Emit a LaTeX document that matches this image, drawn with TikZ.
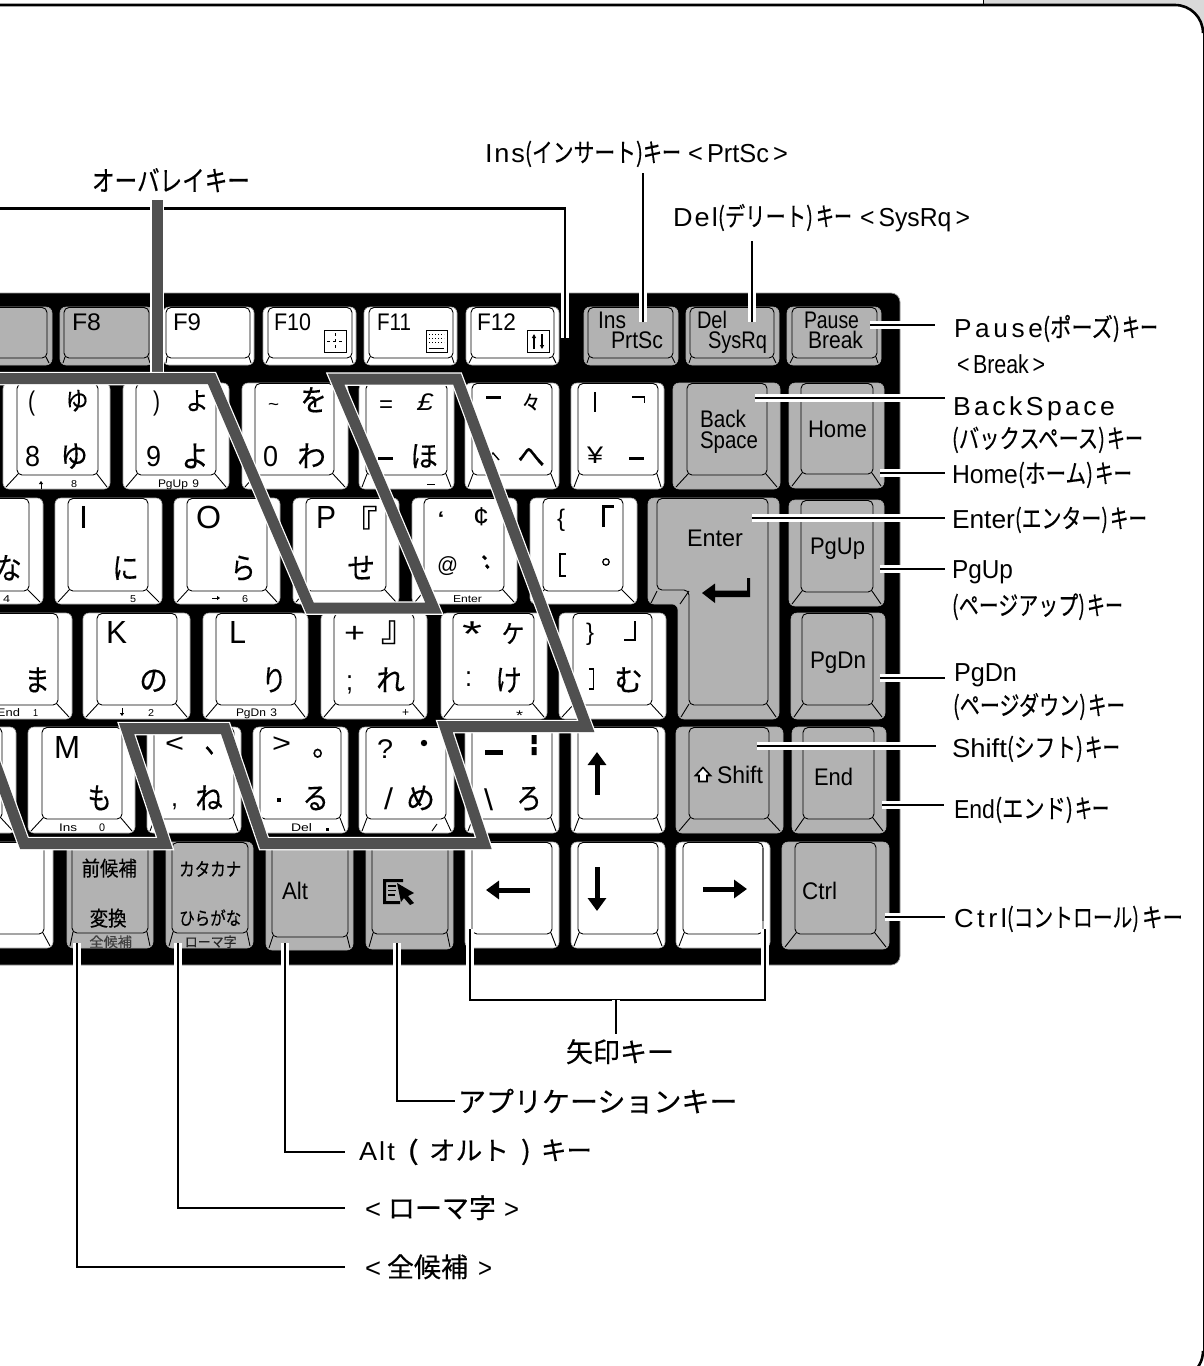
\documentclass[tikz,border=0pt]{standalone}
\usepackage{graphicx}
\usepackage{fontspec}
\setmainfont{Liberation Sans}
\newfontfamily\jp[FakeBold=0.35]{Noto Sans CJK JP}
\usetikzlibrary{arrows.meta}

\definecolor{keygray}{HTML}{B2B2B2}
\definecolor{overlaygray}{HTML}{505050}
\definecolor{tabgray}{HTML}{D9D9D9}

\tikzset{
  keyline/.style={black,line width=0.9pt},
  keytext/.style={anchor=base west,inner sep=0pt,outer sep=0pt},
  leader/.style={black,line width=2.3pt,line join=miter,preaction={draw=white,line width=7.5pt}},
  overlaybar/.style={overlaygray,line width=11pt,line join=miter,miter limit=12,preaction={draw=white,line width=13.5pt}},
  arrowkey/.style={black,line width=5pt,-{Triangle[length=13pt,width=18pt]}}
}

% x0 y0 x1 y1, then face left, face right, face bottom, colour
\newcommand\KeyCap[8]{
  \path[fill=#8,draw=black!35,line width=0.6pt,rounded corners=6pt] (#1,#2) rectangle (#3,#4);
  \draw[keyline,rounded corners=5pt] (#5,#2+0.5) rectangle (#6,#7);
  \draw[keyline] (#5+1,#7-1) -- (#1+3,#4-2) (#6-1,#7-1) -- (#3-3,#4-2);
}
% name, x, baseline, size, width, text
\newcommand\KeyText[6]{\node[keytext] (#1) at (#2,#3) {\resizebox{#5pt}{\height}{\fontsize{#4}{#4}\selectfont #6}};}
% kana fill less of their box than the width asked, so they get a bigger box
\newcommand\KeyJp[6]{
  \pgfmathsetmacro\jpsize{#4*1.15}
  \pgfmathsetmacro\jpwidth{#5*1.15}
  \node[keytext] (#1) at (#2-0.07*#5,#3+1) {\resizebox{\jpwidth pt}{\height}{\fontsize{\jpsize}{\jpsize}\selectfont\jp #6}};
}
% one piece of a callout, as wide as asked
\newcommand\fit[2]{\resizebox{#1pt}{\height}{#2}}
\newcommand\spc[2]{{\addfontfeature{LetterSpace=#1}#2}}

\begin{document}
\begin{tikzpicture}[x=1pt,y=-1pt]
  \useasboundingbox (0,0) rectangle (1204,1366);
  \clip (0,0) rectangle (1204,1366);

  % page frame
  \fill[tabgray] (983,0) rectangle (1204,34);
  \draw[black,line width=0.8pt] (983,0) -- (983,5);
  \path[fill=white] (-5,5) -- (1175,5) arc (-90:0:28) -- (1203,1351) arc (0:60:28) -- (-5,1370) -- cycle;
  \draw[black,line width=2.6pt] (-5,5) -- (1175,5) arc (-90:0:28);
  \draw[black,line width=1pt] (1203,33) -- (1203,1351);
  \draw[black,line width=2.6pt] (1203,1351) arc (0:60:28);

  % keyboard body
  \path[fill=black,draw=black!40,line width=0.7pt,rounded corners=9pt] (-20,293) rectangle (900,965);

  % function row
  \KeyCap{-40}{307}{52}{365}{-30}{47}{358}{keygray}
  \KeyCap{60}{307}{153}{365}{64}{149}{358}{keygray}
  \KeyCap{163}{307}{254}{365}{166}{250}{358}{white}
  \KeyCap{263}{307}{356}{365}{268}{352}{358}{white}
  \KeyCap{364}{307}{457}{365}{369}{453}{358}{white}
  \KeyCap{466}{307}{559}{365}{471}{554}{358}{white}
  \KeyCap{584}{307}{678}{365}{588}{673}{358}{keygray}
  \KeyCap{686}{307}{779}{365}{690}{774}{358}{keygray}
  \KeyCap{787}{307}{881}{365}{792}{877}{358}{keygray}

  % number row
  \KeyCap{-100}{383}{-8}{489}{-80}{-16}{475}{white}
  \KeyCap{3}{383}{110}{489}{17}{98}{475}{white}
  \KeyCap{123}{383}{229}{489}{136}{216}{475}{white}
  \KeyCap{242}{383}{348}{489}{255}{334}{475}{white}
  \KeyCap{359}{383}{454}{489}{366}{447}{475}{white}
  \KeyCap{465}{383}{559}{489}{472}{552}{475}{white}
  \KeyCap{571}{383}{664}{489}{578}{658}{475}{white}
  \KeyCap{673}{383}{780}{489}{687}{767}{475}{keygray}
  \KeyCap{789}{383}{884}{488}{801}{873}{474}{keygray}

  % upper letter row
  \KeyCap{-64}{498}{43}{604}{-51}{29}{591}{white}
  \KeyCap{55}{498}{162}{604}{68}{148}{591}{white}
  \KeyCap{174}{498}{280}{604}{187}{267}{591}{white}
  \KeyCap{293}{498}{399}{604}{306}{386}{591}{white}
  \KeyCap{412}{498}{517}{604}{424}{504}{591}{white}
  \KeyCap{530}{498}{637}{604}{543}{623}{591}{white}
  \KeyCap{789}{500}{884}{606}{801}{873}{592}{keygray}

  % enter key
  \path[fill=keygray,draw=black!35,line width=0.6pt,rounded corners=6pt] (648,498) -- (779,498) -- (779,719) -- (678,719) -- (678,604) -- (648,604) -- cycle;
  \draw[keyline,rounded corners=5pt] (657,498.5) -- (768,498.5) -- (768,705) -- (689,705) -- (689,590) -- (657,590) -- cycle;
  \draw[keyline] (657,591) -- (651,603) (689,591) -- (680,604) (689,704) -- (681,717) (767,704) -- (776,717);

  % middle letter row
  \KeyCap{-35}{613}{72}{719}{-22}{58}{705}{white}
  \KeyCap{83}{613}{190}{719}{97}{177}{705}{white}
  \KeyCap{203}{613}{308}{719}{216}{296}{705}{white}
  \KeyCap{321}{613}{427}{719}{334}{414}{705}{white}
  \KeyCap{441}{613}{547}{719}{453}{534}{705}{white}
  \KeyCap{559}{613}{666}{719}{573}{652}{705}{white}
  \KeyCap{791}{613}{885}{719}{802}{873}{705}{keygray}

  % lower letter row
  \KeyCap{-90}{727}{16}{833}{-78}{2}{819}{white}
  \KeyCap{28}{727}{135}{833}{42}{122}{819}{white}
  \KeyCap{147}{727}{241}{833}{154}{234}{819}{white}
  \KeyCap{253}{727}{348}{833}{260}{341}{819}{white}
  \KeyCap{359}{727}{454}{833}{366}{446}{819}{white}
  \KeyCap{465}{727}{559}{833}{472}{552}{819}{white}
  \KeyCap{571}{727}{665}{833}{578}{658}{819}{white}
  \KeyCap{676}{727}{783}{833}{689}{769}{819}{keygray}
  \KeyCap{792}{727}{886}{833}{803}{874}{819}{keygray}

  % bottom row
  \KeyCap{-60}{842}{53}{948}{-50}{44}{934}{white}
  \KeyCap{67}{842}{153}{948}{72}{148}{933}{keygray}
  \KeyCap{166}{842}{253}{948}{172}{248}{933}{keygray}
  \KeyCap{266}{842}{353}{950}{272}{348}{937}{keygray}
  \KeyCap{366}{842}{453}{949}{372}{448}{934}{keygray}
  \KeyCap{465}{842}{559}{948}{472}{552}{934}{white}
  \KeyCap{571}{842}{665}{948}{578}{658}{934}{white}
  \KeyCap{676}{842}{770}{948}{683}{763}{934}{white}
  \KeyCap{782}{842}{889}{949}{795}{876}{934}{keygray}

  % function keys, text
  \KeyText{kFeight}{72}{330}{24}{29}{F8}
  \KeyText{kFnine}{173}{330}{24}{28}{F9}
  \KeyText{kFten}{274}{330}{24}{37}{F10}
  \KeyText{kFeleven}{377}{330}{24}{34}{F11}
  \KeyText{kFtwelve}{477}{330}{24}{39}{F12}
  \draw[black,line width=0.8pt,fill=white] (324,330) rectangle (346,352);
  \draw[black,line width=0.6pt,dashed] (335,333) -- (335,349) (327,341) -- (343,341);
  \draw[black,line width=0.8pt,fill=white] (426,330) rectangle (447,352);
  \draw[black,line width=1pt,dotted] (429,334) -- (444,334) (429,338) -- (444,338) (429,342) -- (444,342);
  \draw[black,line width=0.8pt] (429,348) -- (444,348);
  \draw[black,line width=0.8pt,fill=white] (527,330) rectangle (549,352);
  \draw[black,line width=1.2pt,-{Triangle[length=4pt,width=4pt]}] (534,349) -- (534,334);
  \draw[black,line width=1.2pt,-{Triangle[length=4pt,width=4pt]}] (542,334) -- (542,349);
  \KeyText{kIns}{598}{328}{24}{28}{Ins}
  \KeyText{kPrt}{611}{348}{24}{52}{PrtSc}
  \KeyText{kDel}{697}{328}{24}{30}{Del}
  \KeyText{kSys}{708}{348}{24}{59}{SysRq}
  \KeyText{kPau}{804}{328}{24}{55}{Pause}
  \KeyText{kBre}{808}{348}{24}{55}{Break}

  % number row, text
  \KeyText{kParL}{28}{410}{27}{7}{(}
  \KeyJp{kYuU}{67}{409}{22}{20}{ゆ}
  \KeyText{kEight}{25}{466}{29}{15}{8}
  \KeyJp{kYuL}{62}{466}{26}{24}{ゆ}
  \KeyText{kParR}{153}{410}{27}{7}{)}
  \KeyJp{kYoU}{187}{409}{22}{20}{よ}
  \KeyText{kNine}{146}{466}{29}{15}{9}
  \KeyJp{kYoL}{183}{466}{26}{24}{よ}
  \KeyText{kTil}{268}{410}{18}{11}{\textasciitilde}
  \KeyJp{kWoU}{302}{410}{26}{23}{を}
  \KeyText{kZero}{263}{466}{29}{15}{0}
  \KeyJp{kWa}{299}{466}{26}{25}{わ}
  \KeyText{kEq}{379}{412}{24}{14}{=}
  \KeyText{kPou}{417}{410}{24}{16}{\itshape £}
  \KeyJp{kHo}{412}{466}{26}{24}{ほ}
  \fill[black] (378,456.5) rectangle (393,459.5);
  \fill[black] (486,395.5) rectangle (501,398.5);
  \KeyJp{kNoma}{523}{409}{18}{16}{々}
  \KeyJp{kHe}{519}{466}{26}{24}{へ}
  \draw[black,line width=1.4pt] (487,460) -- (493,453) -- (499,460);
  \draw[black,line width=1.6pt] (595,392) -- (595,412);
  \draw[black,line width=1.6pt] (632,397) -- (644.5,397) -- (644.5,403);
  \KeyText{kYen}{587}{463}{24}{16}{¥}
  \fill[black] (629,456.5) rectangle (644,459.5);
  \draw[black,line width=1pt,-{Triangle[length=3pt,width=4pt]}] (41,489) -- (41,481);
  \KeyText{kSmEight}{71}{487}{10}{6}{8}
  \KeyText{kPgNine}{158}{487}{11}{41}{PgUp\hspace{4pt}9}
  \fill[black] (427,483.5) rectangle (435,485);
  \KeyText{kBack}{700}{427}{24}{46}{Back}
  \KeyText{kSpace}{700}{448}{24}{58}{Space}
  \KeyText{kHome}{808}{437}{24}{59}{Home}

  % upper letters, text
  \KeyJp{kNa}{-3}{578}{26}{23}{な}
  \KeyText{kFour}{3}{602}{10}{7}{4}
  \KeyText{kI}{79}{528}{32}{9}{I}
  \KeyJp{kNi}{114}{578}{26}{23}{に}
  \KeyText{kFive}{130}{602}{10}{6}{5}
  \KeyText{kO}{196}{528}{32}{25}{O}
  \KeyJp{kRa}{232}{578}{26}{22}{ら}
  \draw[black,line width=1pt,-{Triangle[length=3pt,width=4pt]}] (212,598) -- (220,598);
  \KeyText{kSix}{242}{602}{10}{6}{6}
  \KeyText{kP}{316}{528}{32}{20}{P}
  \KeyJp{kHookL}{344}{535}{31}{31}{『}
  \KeyJp{kSe}{349}{578}{26}{24}{せ}
  \KeyText{kBq}{437}{528}{24}{8}{`}
  \KeyText{kCt}{473}{525}{26}{16}{¢}
  \KeyText{kAt}{437}{572}{22}{21}{@}
  \fill[black] (484,555) -- (487,558) -- (485,560) -- (482,557) -- cycle (487,564) -- (489.5,567) -- (487.5,569) -- (485,566) -- cycle;
  \KeyText{kEnterSm}{453}{602}{10}{29}{Enter}
  \KeyText{kLb}{557}{526}{24}{8}{\{}
  \draw[black,line width=2.6pt] (603.5,527) -- (603.5,506.5) -- (614,506.5);
  \draw[black,line width=1.4pt] (566,554) -- (560,554) -- (560,576) -- (566,576);
  \draw[black,line width=1.3pt] (606,562) circle (3.2);
  \KeyText{kEnter}{687}{546}{24}{56}{Enter}
  \KeyText{kPgUp}{810}{554}{24}{55}{PgUp}
  \fill[black] (702,593) -- (715,583.5) -- (715,590.5) -- (747,590.5) -- (747,578) -- (750,578) -- (750,597) -- (715,597) -- (715,603) -- cycle;

  % middle letters, text
  \KeyJp{kMa}{26}{690}{26}{22}{ま}
  \KeyText{kEnd}{-3}{716}{11}{23}{End}
  \KeyText{kOne}{33}{716}{10}{5}{1}
  \KeyText{kK}{106}{643}{32}{21}{K}
  \KeyJp{kNo}{141}{690}{26}{25}{の}
  \draw[black,line width=1pt,-{Triangle[length=3pt,width=4pt]}] (122,708) -- (122,716);
  \KeyText{kTwo}{148}{716}{10}{6}{2}
  \KeyText{kL}{229}{643}{32}{17}{L}
  \KeyJp{kRi}{263}{690}{26}{22}{り}
  \KeyText{kPgThree}{236}{716}{11}{41}{PgDn\hspace{4pt}3}
  \KeyText{kPlus}{344}{642}{28}{21}{+}
  \KeyJp{kHookR}{383}{640}{31}{31}{』}
  \KeyText{kSemi}{346}{690}{28}{7}{;}
  \KeyJp{kRe}{378}{690}{26}{25}{れ}
  \KeyText{kPlusSm}{402}{716}{12}{7}{+}
  \KeyText{kAst}{462}{646}{36}{20}{*}
  \KeyJp{kKe}{503}{642}{22}{20}{ケ}
  \KeyText{kColon}{465}{686}{28}{7}{:}
  \KeyJp{kKeh}{497}{690}{26}{23}{け}
  \KeyText{kAstSm}{516}{720}{14}{7}{*}
  \KeyText{kRb}{586}{640}{24}{8}{\}}
  \draw[black,line width=2.6pt] (635,621) -- (635,640) -- (624,640);
  \draw[black,line width=1.4pt] (589,669) -- (593.5,669) -- (593.5,689) -- (589,689);
  \KeyJp{kMu}{616}{690}{26}{25}{む}
  \KeyText{kPgDn}{810}{668}{24}{56}{PgDn}

  % lower letters, text
  \KeyText{kM}{54}{758}{32}{26}{M}
  \KeyJp{kMo}{89}{808}{26}{21}{も}
  \KeyText{kInsSm}{59}{831}{11}{18}{Ins}
  \KeyText{kZeroSm}{99}{831}{11}{6}{0}
  \KeyText{kLt}{165}{752}{27}{19}{<}
  \KeyJp{kTen}{206}{752}{26}{22}{、}
  \KeyText{kComma}{171}{806}{26}{7}{,}
  \KeyJp{kNe}{197}{808}{26}{24}{ね}
  \KeyText{kGt}{272}{752}{27}{19}{>}
  \KeyJp{kMaru}{314}{755}{26}{24}{。}
  \fill[black] (277,798) rectangle (281,802);
  \KeyJp{kRu}{304}{808}{26}{23}{る}
  \KeyText{kDelSm}{291}{831}{11}{21}{Del}
  \fill[black] (326,827.5) rectangle (329,830.5);
  \KeyText{kQu}{377}{758}{27}{16}{?}
  \fill[black] (424,743) circle (3.2);
  \KeyText{kSlash}{384}{809}{30}{9}{/}
  \KeyJp{kMe}{408}{808}{26}{25}{め}
  \draw[black,line width=0.9pt] (432,831) -- (437,824);
  \fill[black] (485,749.5) rectangle (503,755);
  \fill[black] (531.5,735) rectangle (536.5,744) (531.5,747) rectangle (536.5,755);
  \KeyText{kBs}{484}{810}{30}{9}{\textbackslash}
  \KeyJp{kRo}{518}{808}{26}{22}{ろ}
  \draw[arrowkey] (597,795) -- (597,752);
  \KeyText{kShift}{717}{783}{24}{46}{Shift}
  \draw[black,line width=1.6pt,fill=white] (703,767.5) -- (710.5,775.5) -- (707,775.5) -- (707,781.5) -- (699,781.5) -- (699,775.5) -- (695.5,775.5) -- cycle;
  \KeyText{kEn}{814}{785}{24}{39}{End}

  % bottom row, text
  \KeyJp{kZen}{85}{875}{18}{48}{前候補}
  \KeyJp{kHen}{92}{925}{18}{32}{変換}
  \KeyJp{kZenSm}{92}{946}{12}{37}{\color{black!75}全候補}
  \KeyJp{kKat}{183}{875}{16}{54}{カタカナ}
  \KeyJp{kHir}{183}{924}{16}{54}{ひらがな}
  \KeyJp{kRom}{188}{946}{12}{45}{\color{black!85}ローマ字}
  \KeyText{kAlt}{282}{899}{24}{26}{Alt}
  \fill[black] (383,879) rectangle (403,882) (383,879) rectangle (386,904) (383,901) rectangle (400,904);
  \draw[black,line width=1.6pt] (388,886) -- (396,886) (388,890.5) -- (396,890.5) (388,895) -- (395,895);
  \fill[black] (397,883) -- (414,893) -- (408,896) -- (414,903) -- (410,905) -- (404,898) -- (401,902) -- cycle;
  \draw[arrowkey] (530,890) -- (486,890);
  \draw[arrowkey] (597,867) -- (597,911);
  \draw[arrowkey] (703,889) -- (747,889);
  \KeyText{kCtrl}{802}{899}{24}{35}{Ctrl}
  \draw[black!60,line width=1.6pt] (763,848) -- (763,921);

  % callout texts
  \node[keytext] (lOver) at (92,191) {\fontsize{28}{28}\selectfont\fit{158}{\jp オーバレイキー}};
  \node[keytext] (lIns) at (485,162) {\fontsize{26}{26}\selectfont\fit{40}{\spc{7}{Ins}}\fit{118}{\jp (インサート)}\fit{38}{\jp キー}\hspace{7pt}\fit{100}{<\,PrtSc\,>}};
  \node[keytext] (lDel) at (673,226) {\fontsize{26}{26}\selectfont\fit{45}{\spc{8}{Del}}\fit{95}{\jp (デリート)}\hspace{3pt}\fit{36}{\jp キー}\hspace{8pt}\fit{110}{<\,SysRq\,>}};
  \node[keytext] (lPause) at (954,337) {\fontsize{26}{26}\selectfont\fit{89}{\spc{14}{Pause}}\fit{77}{\jp (ポーズ)}\hspace{2pt}\fit{36}{\jp キー}};
  \node[keytext] (lBreak) at (957,373) {\fontsize{26}{26}\selectfont\fit{88}{<\,Break\,>}};
  \node[keytext] (lBack) at (953,415) {\fontsize{26}{26}\selectfont\fit{162}{\spc{13}{BackSpace}}};
  \node[keytext] (lBackJp) at (952,448) {\fontsize{26}{26}\selectfont\fit{153}{\jp (バックスペース)}\hspace{2pt}\fit{36}{\jp キー}};
  \node[keytext] (lHome) at (952,483) {\fontsize{26}{26}\selectfont\fit{66}{Home}\fit{75}{\jp (ホーム)}\hspace{2pt}\fit{37}{\jp キー}};
  \node[keytext] (lEnter) at (952,528) {\fontsize{26}{26}\selectfont\fit{63}{Enter}\fit{93}{\jp (エンター)}\hspace{2pt}\fit{37}{\jp キー}};
  \node[keytext] (lPgUp) at (952,578) {\fontsize{26}{26}\selectfont\fit{61}{PgUp}};
  \node[keytext] (lPgUpJp) at (952,615) {\fontsize{26}{26}\selectfont\fit{133}{\jp (ページアップ)}\hspace{2pt}\fit{36}{\jp キー}};
  \node[keytext] (lPgDn) at (954,681) {\fontsize{26}{26}\selectfont\fit{63}{PgDn}};
  \node[keytext] (lPgDnJp) at (953,715) {\fontsize{26}{26}\selectfont\fit{133}{\jp (ページダウン)}\hspace{2pt}\fit{37}{\jp キー}};
  \node[keytext] (lShift) at (952,757) {\fontsize{26}{26}\selectfont\fit{55}{Shift}\fit{76}{\jp (シフト)}\hspace{2pt}\fit{35}{\jp キー}};
  \node[keytext] (lEnd) at (954,818) {\fontsize{26}{26}\selectfont\fit{41}{End}\fit{78}{\jp (エンド)}\hspace{2pt}\fit{34}{\jp キー}};
  \node[keytext] (lCtrl) at (954,927) {\fontsize{26}{26}\selectfont\fit{53}{\spc{13}{Ctrl}}\fit{132}{\jp (コントロール)}\hspace{3pt}\fit{41}{\jp キー}};
  \node[keytext] (lArrow) at (566,1062) {\fontsize{27}{27}\selectfont\jp 矢印キー};
  \node[keytext] (lApp) at (458,1112) {\fontsize{28}{28}\selectfont\jp アプリケーションキー};
  \node[keytext] (lAlt) at (359,1160) {\fontsize{26}{26}\selectfont\fit{36}{\spc{8}{Alt}}\hspace{12pt}\fit{12}{\jp (}\hspace{10pt}\fit{80}{\jp オルト}\hspace{12pt}\fit{10}{\jp )}\hspace{10pt}\fit{51}{\jp キー}};
  \node[keytext] (lRoma) at (365,1218) {\fontsize{27}{27}\selectfont\fit{16}{<}\hspace{7pt}{\jp ローマ字}\hspace{8pt}\fit{15}{>}};
  \node[keytext] (lCand) at (365,1277) {\fontsize{27}{27}\selectfont\fit{16}{<}\hspace{6pt}\fit{81}{\jp 全候補}\hspace{10pt}\fit{14}{>}};

  % callout ends
  \coordinate (tFrow) at (-5,208.5);
  \coordinate (tFbend) at (565,208.5);
  \coordinate (tFend) at (565,338);
  \coordinate (tIns) at (643,322);
  \coordinate (tDel) at (752,322);
  \coordinate (tPause) at (870,325);
  \coordinate (tBack) at (755,398);
  \coordinate (tHome) at (880,473);
  \coordinate (tEnter) at (752,518);
  \coordinate (tPgUp) at (880,569);
  \coordinate (tPgDn) at (880,678);
  \coordinate (tShift) at (757,746);
  \coordinate (tEnd) at (882,805);
  \coordinate (tCtrl) at (885,917);
  \coordinate (tLeft) at (470,929);
  \coordinate (tRight) at (765,929);
  \coordinate (tMid) at (616,1000);
  \coordinate (tApp) at (397,943);
  \coordinate (tAlt) at (285,943);
  \coordinate (tRoma) at (178,943);
  \coordinate (tCand) at (77,943);

  \draw[leader] (tFrow) -- (tFbend) -- (tFend);
  \draw[leader] (tLeft) |- (tMid) -| (tRight);
  \draw[leader,shorten >=5pt] (tMid) -- (tMid |- lArrow.north);
  \draw[leader,shorten >=6pt] (tIns) -- (tIns |- lIns.south);
  \draw[leader,shorten >=10pt] (tDel) -- (tDel |- lDel.south);
  \draw[leader,shorten >=19pt] (tPause) -- (tPause -| lPause.west);
  \draw[leader,shorten >=8pt] (tBack) -- (tBack -| lBack.west);
  \draw[leader,shorten >=7pt] (tHome) -- (tHome -| lHome.west);
  \draw[leader,shorten >=7pt] (tEnter) -- (tEnter -| lEnter.west);
  \draw[leader,shorten >=7pt] (tPgUp) -- (tPgUp -| lPgUp.west);
  \draw[leader,shorten >=9pt] (tPgDn) -- (tPgDn -| lPgDn.west);
  \draw[leader,shorten >=16pt] (tShift) -- (tShift -| lShift.west);
  \draw[leader,shorten >=10pt] (tEnd) -- (tEnd -| lEnd.west);
  \draw[leader,shorten >=9pt] (tCtrl) -- (tCtrl -| lCtrl.west);
  \draw[leader,shorten >=3pt] (tApp) |- (lApp.west);
  \draw[leader,shorten >=14pt] (tAlt) |- (lAlt.west);
  \draw[leader,shorten >=20pt] (tRoma) |- (lRoma.west);
  \draw[leader,shorten >=20pt] (tCand) |- (lCand.west);

  % overlay keys marker
  \draw[overlaybar] (157,200) -- (157,378);
  \draw[overlaybar] (-10,378.5) -- (211.5,378.5) -- (310,608) -- (433.5,608) -- (336,379) -- (457,379)
    -- (586.5,726.5) -- (445,726.5) -- (484,843.5) -- (264,843.5) -- (225,728.5) -- (126.5,728.5)
    -- (165,843.5) -- (24,843.5) -- (-8,755);
\end{tikzpicture}
\end{document}
